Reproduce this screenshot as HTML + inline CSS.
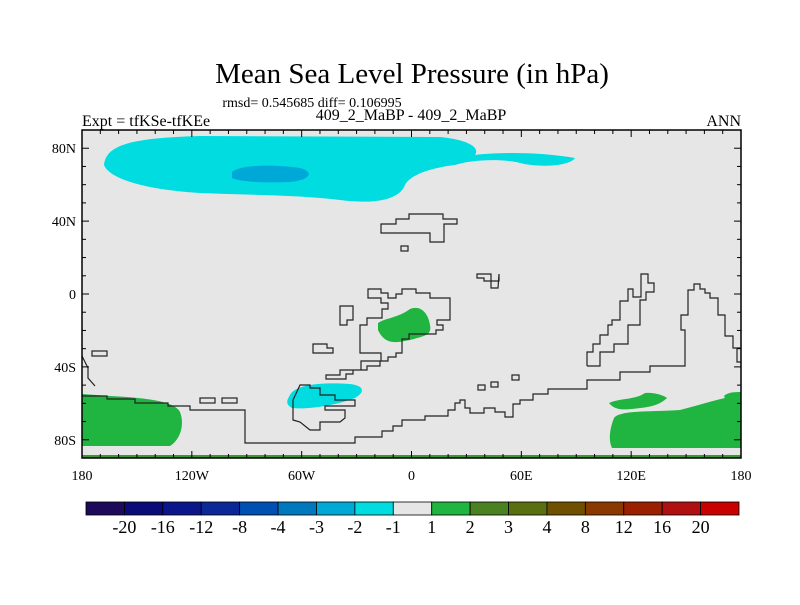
<!DOCTYPE html>
<html><head><meta charset="utf-8"><style>
body{margin:0;background:#fff;}
svg text{font-family:"Liberation Serif",serif;fill:#000;}
</style></head><body>
<svg width="800" height="600" viewBox="0 0 800 600" xmlns="http://www.w3.org/2000/svg">
<text x="412" y="83" font-size="29" text-anchor="middle">Mean Sea Level Pressure (in hPa)</text>
<text x="312" y="107" font-size="14" text-anchor="middle">rmsd= 0.545685 diff= 0.106995</text>
<text x="82" y="126" font-size="16">Expt = tfKSe-tfKEe</text>
<text x="411" y="120" font-size="16" text-anchor="middle">409_2_MaBP - 409_2_MaBP</text>
<text x="741" y="126" font-size="16" text-anchor="end">ANN</text>
<g>
<rect x="82" y="130" width="659" height="328" fill="#e6e6e6"/>
<path fill="#00dce0" d="M104,165 C106,145 130,138 200,136 L440,137 C470,140 480,148 475,155 C500,152 540,152 575,158 C570,166 540,168 520,163 C500,158 470,160 455,165 C430,168 410,175 405,185 C400,198 380,205 340,200 C300,195 250,195 200,193 C150,190 110,180 104,165Z"/>
<path fill="#00a8d8" d="M232,172 C240,165 270,164 300,168 C315,172 310,180 290,182 C265,183 240,182 232,178Z"/>
<path fill="#20b440" d="M378,323 C385,318 398,318 410,309 C420,305 428,312 430,325 C432,335 425,336 410,340 C395,343 385,345 378,330Z"/>
<path fill="#00dce0" d="M290,395 C295,385 320,382 350,384 C365,386 365,392 355,398 C340,404 310,410 292,408 C285,404 287,400 290,395Z"/>
<path fill="#20b440" d="M82,394 L110,396 C150,398 175,402 180,412 C185,425 180,440 170,446 L82,446Z"/>
<path fill="#20b440" d="M609,403 C620,398 635,400 645,393 C655,392 665,396 667,398 C660,405 650,407 640,408 C625,410 615,411 609,403Z"/>
<path fill="#20b440" d="M614,418 C620,410 650,412 680,410 C700,405 720,398 741,395 L741,448 L612,448 C608,440 610,428 614,418Z"/>
<path fill="#20b440" d="M724,396 C728,392 735,392 741,392 L741,410 C735,405 726,402 724,396Z"/>
<rect x="82" y="455" width="659" height="3" fill="#3a9a30"/>
<g fill="none" stroke="#222" stroke-width="1.2">
<polygon points="381,224 396,224 396,219 409,219 409,214 443,214 443,219 457,219 457,224 444,224 444,242 430,242 430,233 381,233"/>
<rect x="401" y="246" width="7" height="5"/>
<polygon points="477,274 491,274 491,281 499,281 499,274 498,288 491,288 491,281 484,281 484,278 477,278"/>
<polygon points="368,289 381,289 381,293 388,293 388,298 396,298 396,294 402,294 402,289 416,289 416,293 430,293 430,298 450,298 450,320 437,320 437,325 443,325 443,330 436,330 436,334 409,334 409,339 402,339 402,353 396,353 396,357 388,357 388,361 380,361 380,366 367,366 367,370 353,370 353,374 346,374 346,379 326,379 326,375 340,375 340,370 361,370 361,361 381,361 381,353 360,353 360,325 367,325 367,318 382,318 382,309 388,309 388,303 381,303 381,298 368,298"/>
<polygon points="340,306 353,306 353,320 347,320 347,325 340,325"/>
<polygon points="313,344 327,344 327,348 333,348 333,353 313,353"/>
<rect x="92" y="351" width="15" height="5"/>
<rect x="200" y="398" width="15" height="5"/>
<rect x="222" y="398" width="15" height="5"/>
<rect x="478" y="385" width="7" height="5"/>
<rect x="491" y="382" width="7" height="5"/>
<rect x="512" y="375" width="7" height="5"/>
<polygon points="300,385 310,385 310,388 320,388 320,395 335,395 335,400 355,400 355,406 325,406 325,410 345,410 345,418 340,422 320,422 320,430 310,430 300,422 293,420 293,400"/>
<polyline points="82,396 107,396 107,399 135,399 135,403 168,403 168,406 190,406 190,410 245,410 245,443 355,443 355,437 382,437 382,431 393,431 393,426 402,426 402,420 425,420 425,416 448,416 448,410 455,410 455,403 460,403 460,400 465,400 465,408 470,408 470,413 484,413 484,408 495,408 495,412 505,412 505,417 513,417 513,404 520,404 520,400 533,400 533,394 548,394 548,389 587,389 587,380 620,380 620,372 650,372 650,366 685,366 685,330 681,330 681,315 688,315 688,290 694,290 694,284 700,284 700,289 705,289 705,293 710,293 710,298 718,298 718,315 725,315 725,336 733,336 733,348 741,348"/>
<polyline points="741,362 737,362 737,348"/>
<polyline points="587,366 587,352 593,352 593,344 600,344 600,335 608,335 608,325 612,325 612,320 620,320 620,301 628,301 628,289 633,289 633,297 641,297 641,274 648,274 648,283 654,283 654,292 646,292 646,300 640,300 640,325 628,325 628,344 614,344 614,352 600,352 600,366 587,366"/>
<polyline points="82,356 82,356 88,368 88,378 95,386"/>
</g>
<rect x="82" y="130" width="659" height="328" fill="none" stroke="#000" stroke-width="1.5"/>
<g id="ticks" stroke="#000" stroke-width="1"></g>
<g id="labels" font-size="14"></g>
</g>
<g id="colorbar"></g>
<script>
const lonTicks=[-180,-120,-60,0,60,120,180];
const lonLabels=["180","120W","60W","0","60E","120E","180"];
const latTicks=[80,40,0,-40,-80];
const latLabels=["80N","40N","0","40S","80S"];
const levels=["-20","-16","-12","-8","-4","-3","-2","-1","1","2","3","4","8","12","16","20"];
const colors=["#1e0a5a","#0a0a78","#0a168a","#0a2896","#0050b4","#0078be","#00a8d8","#00dce0","#e6e6e6","#20b440","#4a8222","#5a7010","#6e5000","#8a3a00","#9a2000","#b01010","#c80000"];
const X0=82,X1=741,Y0=130,Y1=458;
const xs=lon=>X0+(lon+180)/360*(X1-X0);
const ys=lat=>Y0+(90-lat)/180*(Y1-Y0);
const NS="http://www.w3.org/2000/svg";
const tg=document.getElementById('ticks'),lg=document.getElementById('labels');
function mk(t,a){const e=document.createElementNS(NS,t);for(const k in a)e.setAttribute(k,a[k]);return e;}
for(let lon=-180;lon<=180;lon+=10){const x=xs(lon);const L=lon%60===0?7:4;
 const l1=mk('line',{x1:x,x2:x,y1:Y0,y2:Y0+L});tg.appendChild(l1);
 const l2=mk('line',{x1:x,x2:x,y1:Y1,y2:Y1-L});tg.appendChild(l2);}
for(let lat=-90;lat<=90;lat+=10){const y=ys(lat);const L=lat%40===0?7:4;
 const l1=mk('line',{x1:X0,x2:X0+L,y1:y,y2:y});tg.appendChild(l1);
 const l2=mk('line',{x1:X1,x2:X1-L,y1:y,y2:y});tg.appendChild(l2);}
lonTicks.forEach((v,i)=>{const t=mk('text',{x:xs(v),y:480,'text-anchor':'middle'});t.textContent=lonLabels[i];
 lg.appendChild(t);});
latTicks.forEach((v,i)=>{const t=mk('text',{x:76,y:ys(v)+5,'text-anchor':'end'});t.textContent=latLabels[i];
 lg.appendChild(t);});
const cb=document.getElementById('colorbar');const cx0=86,cx1=739,cw=(cx1-cx0)/colors.length;
colors.forEach((c,i)=>{const r=mk('rect',{x:cx0+i*cw,y:502,width:cw,height:13,fill:c,stroke:'#000','stroke-width':0.8});
 cb.appendChild(r);});
levels.forEach((s,i)=>{const t=mk('text',{x:cx0+(i+1)*cw,y:533,'text-anchor':'middle','font-size':18});t.textContent=s;
 cb.appendChild(t);});
</script>
</svg>
</body></html>
